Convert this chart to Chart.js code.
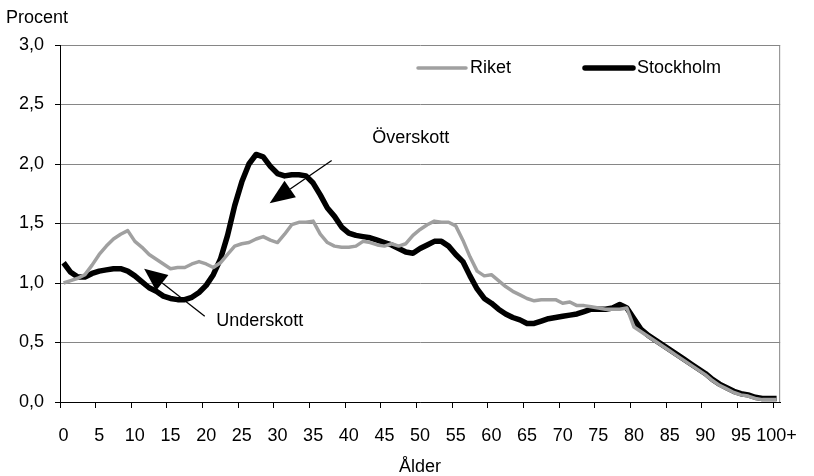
<!DOCTYPE html>
<html lang="sv">
<head>
    <meta charset="UTF-8">
    <title>Åldersfördelning – Riket och Stockholm</title>
    <script src="https://cdn.jsdelivr.net/npm/chart.js"></script>
    <style>
        body { margin: 0; background: #fff; }
    </style>
</head>
<body>
    <canvas id="ageChart" width="814" height="476"></canvas>

    <script>
        // ålder 0..99 och 100+
        var ages = [];
        for (var a = 0; a < 100; a++) ages.push(String(a));
        ages.push('100+');

        // andel (procent) av befolkningen per ålder
        var riket = [
            1.00, 1.02, 1.04, 1.07, 1.15, 1.24, 1.31, 1.37, 1.41, 1.44,
            1.35, 1.30, 1.24, 1.20, 1.16, 1.12, 1.13, 1.13, 1.16, 1.18,
            1.16, 1.13, 1.17, 1.24, 1.31, 1.33, 1.34, 1.37, 1.39, 1.36,
            1.34, 1.41, 1.49, 1.51, 1.51, 1.52, 1.41, 1.34, 1.31, 1.30,
            1.30, 1.31, 1.35, 1.34, 1.32, 1.31, 1.33, 1.31, 1.33, 1.40,
            1.45, 1.49, 1.52, 1.51, 1.51, 1.48, 1.36, 1.22, 1.10, 1.06,
            1.07, 1.02, 0.97, 0.93, 0.90, 0.87, 0.85, 0.86, 0.86, 0.86,
            0.83, 0.84, 0.81, 0.81, 0.80, 0.79, 0.78, 0.78, 0.78, 0.79,
            0.63, 0.59, 0.55, 0.51, 0.47, 0.43, 0.39, 0.35, 0.31, 0.27,
            0.23, 0.18, 0.14, 0.11, 0.08, 0.06, 0.05, 0.03, 0.02, 0.02,
            0.02
        ];
        var stockholm = [
            1.17, 1.09, 1.05, 1.05, 1.08, 1.10, 1.11, 1.12, 1.12, 1.10,
            1.06, 1.01, 0.96, 0.93, 0.89, 0.87, 0.86, 0.86, 0.88, 0.92,
            0.98, 1.07, 1.20, 1.40, 1.65, 1.85, 2.00, 2.08, 2.06, 1.98,
            1.92, 1.90, 1.91, 1.91, 1.90, 1.84, 1.74, 1.63, 1.56, 1.47,
            1.42, 1.40, 1.39, 1.38, 1.36, 1.34, 1.32, 1.29, 1.26, 1.25,
            1.29, 1.32, 1.35, 1.35, 1.31, 1.24, 1.18, 1.06, 0.95, 0.87,
            0.83, 0.78, 0.74, 0.71, 0.69, 0.66, 0.66, 0.68, 0.70, 0.71,
            0.72, 0.73, 0.74, 0.76, 0.78, 0.78, 0.78, 0.79, 0.82, 0.79,
            0.70, 0.61, 0.56, 0.52, 0.48, 0.44, 0.40, 0.36, 0.32, 0.28,
            0.24, 0.19, 0.15, 0.12, 0.09, 0.07, 0.06, 0.04, 0.03, 0.03,
            0.03
        ];

        var FONT = '"Liberation Sans", Arial, sans-serif';
        var FSIZE = 18;

        function arrow(ctx, x1, y1, x2, y2, headLen, headW) {
            var ang = Math.atan2(y2 - y1, x2 - x1);
            var bx = x2 - Math.cos(ang) * headLen;
            var by = y2 - Math.sin(ang) * headLen;
            ctx.beginPath();
            ctx.moveTo(x1, y1);
            ctx.lineTo(bx, by);
            ctx.stroke();
            ctx.beginPath();
            ctx.moveTo(x2, y2);
            ctx.lineTo(bx + Math.sin(ang) * headW, by - Math.cos(ang) * headW);
            ctx.lineTo(bx - Math.sin(ang) * headW, by + Math.cos(ang) * headW);
            ctx.closePath();
            ctx.fill();
        }

        var overlay = {
            id: 'overlay',
            afterDraw: function(chart) {
                var ctx = chart.ctx;
                var area = chart.chartArea;
                var xs = chart.scales.x, ys = chart.scales.y;
                ctx.save();

                // höger ram
                ctx.strokeStyle = '#868686';
                ctx.lineWidth = 1;
                ctx.beginPath();
                ctx.moveTo(area.right - 0.5, area.top);
                ctx.lineTo(area.right - 0.5, area.bottom);
                ctx.stroke();

                ctx.fillStyle = '#000';
                ctx.font = FSIZE + 'px ' + FONT;
                ctx.textBaseline = 'middle';
                ctx.textAlign = 'left';
                ctx.fillText('Procent', 6, 18);

                // förklaring
                var items = chart.data.datasets;
                var legX = [418, 585];
                items.forEach(function(ds, i) {
                    ctx.strokeStyle = ds.borderColor;
                    ctx.lineWidth = ds.borderWidth;
                    ctx.lineCap = 'round';
                    ctx.beginPath();
                    ctx.moveTo(legX[i], 68);
                    ctx.lineTo(legX[i] + 48, 68);
                    ctx.stroke();
                    ctx.fillText(ds.label, legX[i] + 52, 68);
                });

                // pilar och texter
                ctx.strokeStyle = '#000';
                ctx.fillStyle = '#000';
                ctx.lineWidth = 1.3;
                ctx.lineCap = 'butt';
                arrow(ctx, xs.getPixelForValue(37.6), ys.getPixelForValue(2.03),
                      xs.getPixelForValue(28.9), ys.getPixelForValue(1.67), 25, 10);
                arrow(ctx, xs.getPixelForValue(19.8), ys.getPixelForValue(0.72),
                      xs.getPixelForValue(11.3), ys.getPixelForValue(1.12), 23, 10);
                ctx.fillText('Överskott', xs.getPixelForValue(43.3), ys.getPixelForValue(2.22));
                ctx.fillText('Underskott', xs.getPixelForValue(21.4), ys.getPixelForValue(0.68));
                ctx.restore();
            }
        };

        var ctx = document.getElementById('ageChart').getContext('2d');
        new Chart(ctx, {
            type: 'line',
            data: {
                labels: ages,
                datasets: [{
                    label: 'Riket',
                    data: riket,
                    borderColor: '#a0a0a0',
                    borderWidth: 3.5,
                    pointRadius: 0,
                    tension: 0,
                    borderJoinStyle: 'round'
                }, {
                    label: 'Stockholm',
                    data: stockholm,
                    borderColor: '#000000',
                    borderWidth: 5.5,
                    pointRadius: 0,
                    tension: 0,
                    borderJoinStyle: 'round'
                }]
            },
            options: {
                responsive: false,
                animation: false,
                layout: { padding: { top: 45, right: 26, left: 0, bottom: 0 } },
                plugins: {
                    legend: { display: false },
                    tooltip: { enabled: false }
                },
                scales: {
                    x: {
                        type: 'category',
                        offset: true,
                        grid: {
                            offset: true,
                            drawOnChartArea: false,
                            drawTicks: true,
                            tickLength: 6,
                            color: function(c) { return c.index % 5 === 0 ? '#000' : 'rgba(0,0,0,0)'; }
                        },
                        border: { color: '#000', width: 1 },
                        ticks: {
                            autoSkip: false,
                            maxRotation: 0,
                            padding: 17,
                            color: '#000',
                            font: { size: FSIZE, family: FONT },
                            callback: function(v, i) { return i % 5 === 0 ? ages[i] : ''; }
                        },
                        title: {
                            display: true,
                            text: 'Ålder',
                            color: '#000',
                            font: { size: FSIZE, family: FONT },
                            padding: { top: 0, bottom: -2 }
                        },
                        afterFit: function(s) { s.height = 74; }
                    },
                    y: {
                        min: 0,
                        max: 3,
                        ticks: {
                            stepSize: 0.5,
                            padding: 11,
                            color: '#000',
                            font: { size: FSIZE, family: FONT },
                            callback: function(v) { return v.toFixed(1).replace('.', ','); }
                        },
                        grid: { color: '#868686', tickColor: '#000', tickLength: 5 },
                        border: { color: '#000', width: 1 },
                        afterFit: function(s) { s.width = 60; }
                    }
                }
            },
            plugins: [overlay]
        });
    </script>
</body>
</html>
